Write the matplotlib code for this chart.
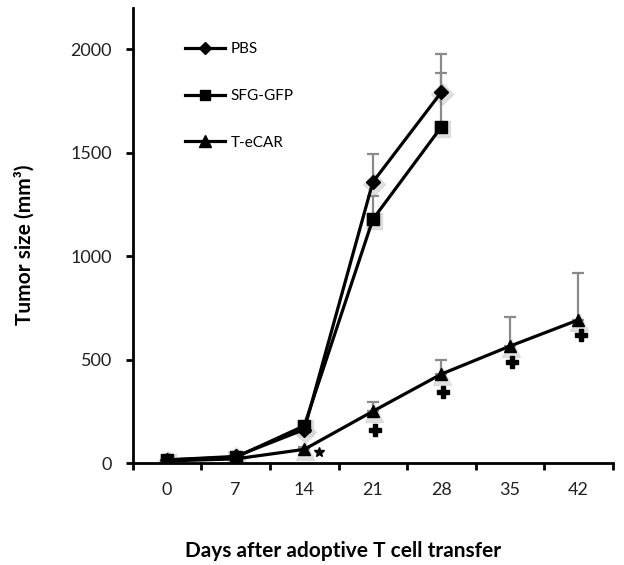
"""
Tumor growth after adoptive T cell transfer
"""

import numpy as np
import matplotlib.pyplot as plt
from matplotlib.transforms import offset_copy

plt.rcParams["font.family"] = ["Lato", "DejaVu Sans"]

# ---------------------------------------------
# DATA
# ---------------------------------------------
days = ["0", "7", "14", "21", "28", "35", "42"]

pbs_mean = [15, 32, 162, 1358, 1793]
pbs_err  = [5, 8, 20, 138, 185]

gfp_mean = [15, 28, 180, 1178, 1625]
gfp_err  = [5, 8, 15, 112, 258]

car_mean = [10, 20, 66, 250, 430, 565, 692]
car_err  = [4, 6, 10, 46, 67, 140, 225]

sig_days  = ["21", "28", "35", "42"]   # "+" significance marks
sig_vals  = [160, 345, 487, 617]
star_day  = "14"
star_val  = 55

GREY = "#8a8a8a"

# ---------------------------------------------
# FIGURE
# ---------------------------------------------
fig = plt.figure(figsize=(6.24, 5.65), dpi=100)
ax = fig.add_axes([0.213, 0.1805, 0.769, 0.8055])

xpos = np.arange(len(days))


def series(mean, err, marker, ms, label):
    x = xpos[:len(mean)]
    # soft grey halo behind markers (Excel shadow)
    shadow = offset_copy(ax.transData, fig=fig, x=0.5, y=-1.5, units="points")
    ax.plot(x, mean, ls="none", marker=marker, ms=ms + 4, color="#d4d4d4",
            alpha=0.7, transform=shadow, zorder=1)
    ax.errorbar(x, mean, yerr=[np.zeros(len(err)), err], fmt="none",
                ecolor=GREY, elinewidth=1.6, capsize=4, capthick=1.6, zorder=2)
    ax.plot(x, mean, color="black", lw=2.3, marker=marker, ms=ms,
            label=label, zorder=3)


series(pbs_mean, pbs_err, "D", 7, "PBS")
series(gfp_mean, gfp_err, "s", 8, "SFG-GFP")
series(car_mean, car_err, "^", 9, "T-eCAR")

# significance marks
sx = [days.index(d) + 0.03 for d in sig_days]
ax.plot(sx, sig_vals, ls="none", marker="P", ms=8, color="black", zorder=4)
ax.plot(days.index(star_day) + 0.22, star_val, ls="none", marker="*",
        ms=7, color="black", zorder=4)

# ---------------------------------------------
# AXES
# ---------------------------------------------
ax.set_xlim(-0.5, len(days) - 0.5)
ax.set_ylim(0, 2200)

ax.set_xticks(np.arange(-0.5, len(days)), minor=False)
ax.set_xticklabels([])
ax.set_xticks(xpos, minor=True)
ax.set_xticklabels(days, minor=True)
ax.tick_params(axis="x", which="major", direction="out", length=5, width=2)
ax.tick_params(axis="x", which="minor", length=0, pad=14, labelsize=13,
               labelcolor="#222222")

ax.set_yticks([0, 500, 1000, 1500, 2000])
ax.tick_params(axis="y", direction="out", length=5, width=2, pad=10,
               labelsize=13, labelcolor="#222222")

for side in ["top", "right"]:
    ax.spines[side].set_visible(False)
for side in ["left", "bottom"]:
    ax.spines[side].set_linewidth(2)

ax.set_ylabel("Tumor size (mm³)", fontsize=15, fontweight="bold")
ax.yaxis.set_label_coords(-0.205, 0.48)
ax.set_xlabel("Days after adoptive T cell transfer", fontsize=15,
              fontweight="bold")
ax.xaxis.set_label_coords(0.437, -0.172)

leg = ax.legend(loc="upper left", bbox_to_anchor=(0.08, 0.955), frameon=False,
                fontsize=11, labelspacing=2.15, handlelength=2.6,
                handletextpad=0.4, markerscale=0.9)

plt.savefig("out.png", dpi=100)
